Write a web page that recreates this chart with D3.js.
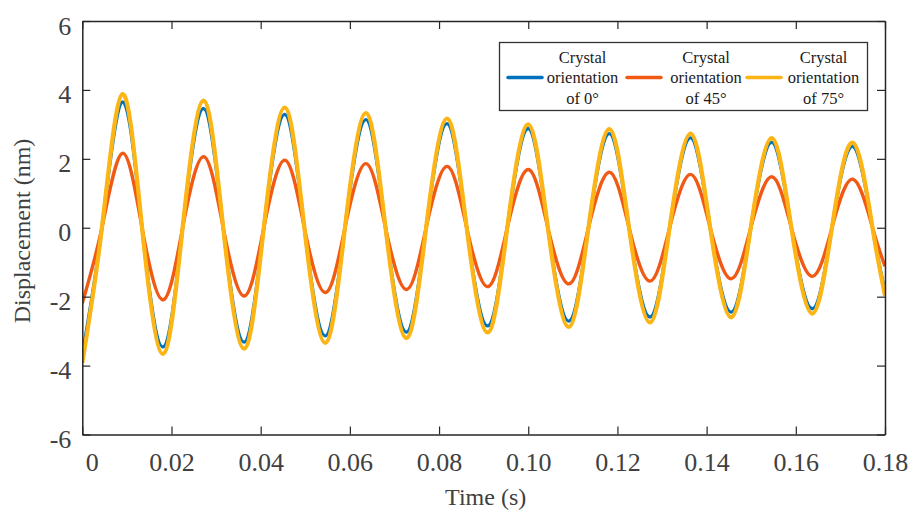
<!DOCTYPE html>
<html>
<head>
<meta charset="utf-8">
<script src="https://cdn.jsdelivr.net/npm/d3@7"></script>
<style>
  html, body { margin: 0; padding: 0; background: #fff; }
  svg { display: block; }
  text { font-family: "Liberation Serif", "Times New Roman", serif; }
</style>
</head>
<body>
<svg id="chart" width="917" height="515"></svg>
<script>
// ---------------- data ----------------
const time = [0, 0.0044, 0.0090, 0.0134, 0.0181, 0.0225, 0.0272, 0.0316, 0.0363, 0.0407,
  0.0454, 0.0498, 0.0545, 0.0589, 0.0636, 0.0680, 0.0727, 0.0771, 0.0818, 0.0862,
  0.0909, 0.0953, 0.1000, 0.1044, 0.1091, 0.1135, 0.1182, 0.1226, 0.1273, 0.1317,
  0.1364, 0.1408, 0.1455, 0.1499, 0.1546, 0.1590, 0.1637, 0.1681, 0.1728, 0.1772, 0.18];

const orient0 = [-3.68, 0, 3.65, 0, -3.46, 0, 3.46, 0, -3.32, 0, 3.29, 0, -3.14, 0, 3.14, 0,
  -3.03, 0, 3.02, 0, -2.85, 0, 2.88, 0, -2.71, 0, 2.73, 0, -2.59, 0, 2.61, 0,
  -2.45, 0, 2.48, 0, -2.35, 0, 2.36, 0, -1.85];

const orient45 = [-2.19, 0, 2.16, 0, -2.09, 0, 2.06, 0, -1.98, 0, 1.96, 0, -1.88, 0, 1.86, 0,
  -1.79, 0, 1.78, 0, -1.71, 0, 1.69, 0, -1.63, 0, 1.61, 0, -1.55, 0, 1.55, 0,
  -1.48, 0, 1.48, 0, -1.41, 0, 1.41, 0, -1.12];

const orient75 = [-3.92, 0, 3.88, 0, -3.66, 0, 3.69, 0, -3.51, 0, 3.49, 0, -3.34, 0, 3.33, 0,
  -3.20, 0, 3.17, 0, -3.04, 0, 3.00, 0, -2.88, 0, 2.86, 0, -2.75, 0, 2.73, 0,
  -2.60, 0, 2.60, 0, -2.49, 0, 2.47, 0, -1.97];

const legendLines = [["Crystal", "orientation", "of 0°"], ["Crystal", "orientation", "of 45°"], ["Crystal", "orientation", "of 75°"]];
const xTicks = [0, 0.02, 0.04, 0.06, 0.08, 0.10, 0.12, 0.14, 0.16, 0.18];
const xTickLabels = ["0", "0.02", "0.04", "0.06", "0.08", "0.10", "0.12", "0.14", "0.16", "0.18"];
const yTicks = [-6, -4, -2, 0, 2, 4, 6];
const yTickLabels = ["-6", "-4", "-2", "0", "2", "4", "6"];
const xTitle = "Time (s)";
const yTitle = "Displacement (nm)";

// ---------------- layout / style ----------------
const colors = ["#0072BD", "#F05A14", "#FDB515"];
const widths = [3.3, 3.4, 4.2];
const L = 82.3, R = 885, T = 21, B = 434.5;
const axisColor = "#262626";
const labelColor = "#404040";

const svg = d3.select("#chart");
const x = d3.scaleLinear().domain([0, 0.18]).range([L, R]);
const y = d3.scaleLinear().domain([-6, 6]).range([B, T]);

svg.append("defs").append("clipPath").attr("id", "clip")
  .append("rect").attr("x", L).attr("y", T).attr("width", R - L).attr("height", B - T);

// series
const allSeries = [orient0, orient45, orient75];
const line = d3.line().x(d => x(d[0])).y(d => y(d[1])).curve(d3.curveNatural);
const plot = svg.append("g").attr("clip-path", "url(#clip)");
allSeries.forEach((vals, i) => {
  const pts = time.map((t, k) => [t, vals[k]]);
  plot.append("path").datum(pts)
    .attr("d", line)
    .attr("fill", "none")
    .attr("stroke", colors[i])
    .attr("stroke-width", widths[i])
    .attr("stroke-linejoin", "round");
});

// axes (bottom, left, top, right) with inward ticks
const tickLen = 8;
const gBottom = svg.append("g").attr("transform", `translate(0,${B})`)
  .call(d3.axisBottom(x).tickValues(xTicks).tickSizeInner(-tickLen).tickSizeOuter(0)
    .tickFormat((d, i) => xTickLabels[i]));
const gTop = svg.append("g").attr("transform", `translate(0,${T})`)
  .call(d3.axisTop(x).tickValues(xTicks).tickSizeInner(-tickLen).tickSizeOuter(0).tickFormat(""));
const gLeft = svg.append("g").attr("transform", `translate(${L},0)`)
  .call(d3.axisLeft(y).tickValues(yTicks).tickSizeInner(-tickLen).tickSizeOuter(0)
    .tickFormat((d, i) => yTickLabels[i]));
const gRight = svg.append("g").attr("transform", `translate(${R},0)`)
  .call(d3.axisRight(y).tickValues(yTicks).tickSizeInner(-tickLen).tickSizeOuter(0).tickFormat(""));

[gBottom, gTop, gLeft, gRight].forEach(g => {
  g.select(".domain").attr("stroke", axisColor).attr("stroke-width", 1.5);
  g.selectAll(".tick line").attr("stroke", axisColor).attr("stroke-width", 1.2);
  g.selectAll("text").attr("font-size", 26).attr("fill", labelColor);
});
gBottom.selectAll(".tick text").attr("y", 0).attr("dy", null)
  .attr("transform", (d, i) => `translate(${i === 0 ? 9.5 : 0},${471 - B})`);
gLeft.selectAll(".tick text").attr("x", -11).attr("dy", "0.50em");

// axis titles
svg.append("text").attr("x", (L + R) / 2 + 2).attr("y", 505)
  .attr("text-anchor", "middle").attr("font-size", 24).attr("fill", labelColor).text(xTitle);
svg.append("text").attr("transform", "translate(30,231) rotate(-90)")
  .attr("text-anchor", "middle").attr("font-size", 24).attr("fill", labelColor).text(yTitle);

// legend
const lg = svg.append("g");
lg.append("rect").attr("x", 499.5).attr("y", 42.5).attr("width", 368).attr("height", 68)
  .attr("fill", "#fff").attr("stroke", "#333").attr("stroke-width", 1.3);
const lineX = [508, 627, 747];
const textX = [582.5, 706, 823.5];
legendLines.forEach((lines, i) => {
  lg.append("line").attr("x1", lineX[i]).attr("x2", lineX[i] + 34)
    .attr("y1", 77.5).attr("y2", 77.5)
    .attr("stroke", colors[i]).attr("stroke-width", 3.5).attr("stroke-linecap", "round");
  lines.forEach((s, j) => {
    lg.append("text").attr("x", textX[i]).attr("y", 62.5 + j * 20.8)
      .attr("text-anchor", "middle").attr("font-size", 16.5).attr("fill", "#1a1a1a").text(s);
  });
});
</script>
</body>
</html>
